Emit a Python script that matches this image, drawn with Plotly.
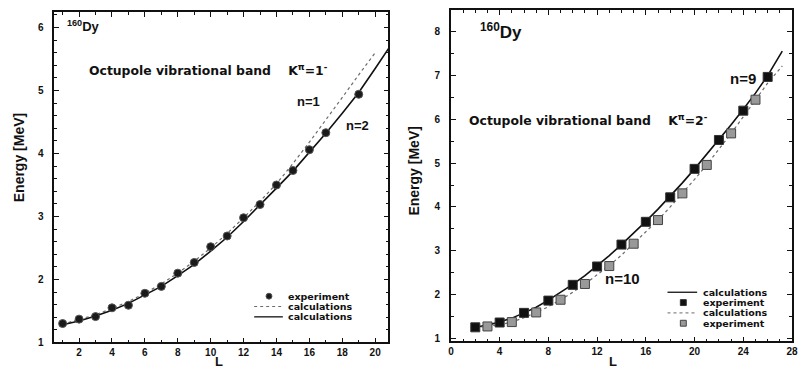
import plotly.graph_objects as go

# ---------------- data: left panel (K^pi = 1-) ----------------
L_exp_left = [1, 2, 3, 4, 5, 6, 7, 8, 9, 10, 11, 12, 13, 14, 15, 16, 17, 19]
E_exp_left = [1.30, 1.37, 1.41, 1.55, 1.59, 1.78, 1.89, 2.10, 2.27, 2.52, 2.69,
              2.98, 3.19, 3.50, 3.73, 4.06, 4.33, 4.94]

L_calc_n1 = [1, 2, 3, 4, 5, 6, 7, 8, 9, 10, 11, 12, 13, 14, 15, 16, 17, 18, 19, 20]
E_calc_n1 = [1.29, 1.36, 1.44, 1.54, 1.65, 1.78, 1.93, 2.10, 2.29, 2.50, 2.73,
             2.98, 3.24, 3.52, 3.84, 4.18, 4.53, 4.89, 5.25, 5.60]

L_calc_n2 = [1, 2, 3, 4, 5, 6, 7, 8, 9, 10, 11, 12, 13, 14, 15, 16, 17, 18, 19, 20, 21]
E_calc_n2 = [1.28, 1.34, 1.42, 1.51, 1.62, 1.75, 1.89, 2.06, 2.24, 2.45, 2.67,
             2.92, 3.18, 3.45, 3.72, 4.02, 4.32, 4.64, 4.97, 5.35, 5.74]

# ---------------- data: right panel (K^pi = 2-) ----------------
L_exp_n9 = [2, 4, 6, 8, 10, 12, 14, 16, 18, 20, 22, 24, 26]
E_exp_n9 = [1.25, 1.36, 1.58, 1.86, 2.22, 2.64, 3.14, 3.66, 4.22, 4.87, 5.53, 6.20, 6.97]

L_exp_n10 = [3, 5, 7, 9, 11, 13, 15, 17, 19, 21, 23, 25]
E_exp_n10 = [1.27, 1.37, 1.59, 1.88, 2.24, 2.65, 3.16, 3.70, 4.31, 4.96, 5.68, 6.45]

L_calc_n9 = [2, 3, 4, 5, 6, 7, 8, 9, 10, 11, 12, 13, 14, 15, 16, 17, 18, 19, 20,
             21, 22, 23, 24, 25, 26, 27, 27.2]
E_calc_n9 = [1.25, 1.30, 1.37, 1.46, 1.58, 1.71, 1.87, 2.04, 2.23, 2.43, 2.65, 2.89,
             3.14, 3.40, 3.67, 3.95, 4.24, 4.55, 4.87, 5.20, 5.54, 5.88, 6.23, 6.60,
             7.00, 7.45, 7.56]

L_calc_n10 = [2, 3, 4, 5, 6, 7, 8, 9, 10, 11, 12, 13, 14, 15, 16, 17, 18, 19, 20,
              21, 22, 23, 24, 25, 26, 27.2]
E_calc_n10 = [1.24, 1.27, 1.31, 1.37, 1.47, 1.59, 1.72, 1.88, 2.05, 2.24, 2.44, 2.66,
              2.90, 3.16, 3.42, 3.70, 4.00, 4.31, 4.63, 4.96, 5.31, 5.68, 6.06, 6.45,
              6.83, 7.22]

legend_left_labels = ["experiment", "calculations", "calculations"]
legend_right_labels = ["calculations", "experiment", "calculations", "experiment"]

FONT = "Liberation Sans"
WIDE = "DejaVu Sans"
W, H = 806, 375

BLACK = "#111"
DOT_GREY = "#6a6a6a"
SQ_GREY = "#999"

fig = go.Figure()

# left panel traces
fig.add_trace(go.Scatter(x=L_calc_n1, y=E_calc_n1, mode="lines",
                         line=dict(color=DOT_GREY, width=1.2, dash="dot"),
                         xaxis="x", yaxis="y", showlegend=False))
fig.add_trace(go.Scatter(x=L_calc_n2, y=E_calc_n2, mode="lines",
                         line=dict(color=BLACK, width=1.6),
                         xaxis="x", yaxis="y", showlegend=False))
fig.add_trace(go.Scatter(x=L_exp_left, y=E_exp_left, mode="markers",
                         marker=dict(symbol="circle", size=8, color="#1a1a1a",
                                     line=dict(color="#555", width=1)),
                         xaxis="x", yaxis="y", showlegend=False))

# right panel traces
fig.add_trace(go.Scatter(x=L_calc_n9, y=E_calc_n9, mode="lines",
                         line=dict(color=BLACK, width=1.6),
                         xaxis="x2", yaxis="y2", showlegend=False))
fig.add_trace(go.Scatter(x=L_calc_n10, y=E_calc_n10, mode="lines",
                         line=dict(color=DOT_GREY, width=1.2, dash="dot"),
                         xaxis="x2", yaxis="y2", showlegend=False))
fig.add_trace(go.Scatter(x=L_exp_n9, y=E_exp_n9, mode="markers",
                         marker=dict(symbol="square", size=9, color=BLACK,
                                     line=dict(color="#333", width=1)),
                         xaxis="x2", yaxis="y2", showlegend=False))
fig.add_trace(go.Scatter(x=L_exp_n10, y=E_exp_n10, mode="markers",
                         marker=dict(symbol="square", size=9, color=SQ_GREY,
                                     line=dict(color="#444", width=1)),
                         xaxis="x2", yaxis="y2", showlegend=False))

tickfont = dict(family=FONT, size=10, color=BLACK, weight="bold")
common = dict(showgrid=False, zeroline=False, showline=True, linecolor=BLACK,
              linewidth=1.5, mirror="allticks", ticks="inside", ticklen=5,
              tickcolor=BLACK, tickfont=tickfont)

fig.update_layout(
    width=W, height=H, margin=dict(l=0, r=0, t=0, b=0),
    paper_bgcolor="white", plot_bgcolor="white",
    font=dict(family=FONT, color=BLACK),
    showlegend=False,
    xaxis=dict(domain=[0.0645, 0.4835], range=[0.5, 20.8], dtick=2, tick0=0,
               minor=dict(dtick=1, ticklen=3, ticks="inside", tickcolor=BLACK),
               ticklabelstandoff=0, **common),
    yaxis=dict(domain=[0.072, 0.968], range=[1, 6.25], dtick=1,
               minor=dict(dtick=0.2, ticklen=3, ticks="inside", tickcolor=BLACK),
               ticklabelstandoff=7, **common),
    xaxis2=dict(domain=[0.562, 0.990], range=[0, 28], dtick=4, tick0=0, anchor="y2",
                minor=dict(dtick=1, ticklen=3, ticks="inside", tickcolor=BLACK),
                ticklabelstandoff=0, **common),
    yaxis2=dict(domain=[0.075, 0.973], range=[0.93, 8.5], dtick=1, anchor="x2",
                minor=dict(dtick=0.5, ticklen=3, ticks="inside", tickcolor=BLACK),
                ticklabelstandoff=7, **common),
)


def px(xp):
    return xp / W


def py(yp):
    return 1 - yp / H


def add_text(text, x, y, size, family=FONT, xanchor="left", angle=0):
    fig.add_annotation(text=text, xref="paper", yref="paper", x=px(x), y=py(y),
                       showarrow=False, xanchor=xanchor, yanchor="middle",
                       textangle=angle, font=dict(family=family, size=size, color=BLACK))


# labels inside panels
add_text("<b><sup>160</sup>Dy</b>", 63, 26, 13)
add_text("<b>Octupole vibrational band    K<sup>π</sup>=1<sup>-</sup></b>", 85, 71, 12.4, WIDE)
add_text("<b>n=1</b>", 295, 103, 13)
add_text("<b>n=2</b>", 345, 128, 13)
add_text("<b><sup>160</sup>Dy</b>", 480, 31, 17)
add_text("<b>Octupole vibrational band    K<sup>π</sup>=2<sup>-</sup></b>", 469, 122, 12.4, WIDE)
add_text("<b>n=9</b>", 733, 80, 15)
add_text("<b>n=10</b>", 607, 283, 15)

# axis titles
add_text("<b>L</b>", 218, 367, 13, xanchor="center")
add_text("<b>L</b>", 617, 367, 13, xanchor="center")
add_text("<b>Energy [MeV]</b>", 17, 160, 14, xanchor="center", angle=-90)
add_text("<b>Energy [MeV]</b>", 416, 174, 14, xanchor="center", angle=-90)


# manual legends (compact spacing as in the reference)
def legend_line(x0, x1, y, color, width, dash):
    fig.add_shape(type="line", xref="paper", yref="paper", x0=px(x0), x1=px(x1),
                  y0=py(y), y1=py(y), line=dict(color=color, width=width, dash=dash))


def legend_marker(xc, y, kind, size, fill, edge):
    fig.add_shape(type=kind, xref="paper", yref="paper",
                  x0=px(xc - size / 2), x1=px(xc + size / 2),
                  y0=py(y + size / 2), y1=py(y - size / 2),
                  fillcolor=fill, line=dict(color=edge, width=1))


left_rows = [301, 311.5, 322]
legend_marker(269, left_rows[0], "circle", 6, "#1a1a1a", "#555")
legend_line(254, 283, left_rows[1], DOT_GREY, 1, "dot")
legend_line(254, 283, left_rows[2], BLACK, 1.3, "solid")
for lab, yy in zip(legend_left_labels, left_rows):
    add_text("<b>" + lab + "</b>", 286, yy, 9.5, WIDE)

right_rows = [297, 307.5, 318, 328.5]
legend_line(672, 702, right_rows[0], BLACK, 1.3, "solid")
legend_marker(688, right_rows[1], "rect", 6, BLACK, "#333")
legend_line(672, 702, right_rows[2], DOT_GREY, 1, "dot")
legend_marker(688, right_rows[3], "rect", 6, SQ_GREY, "#444")
for lab, yy in zip(legend_right_labels, right_rows):
    add_text("<b>" + lab + "</b>", 706, yy, 9.5, WIDE)

fig.write_html("out.html")
